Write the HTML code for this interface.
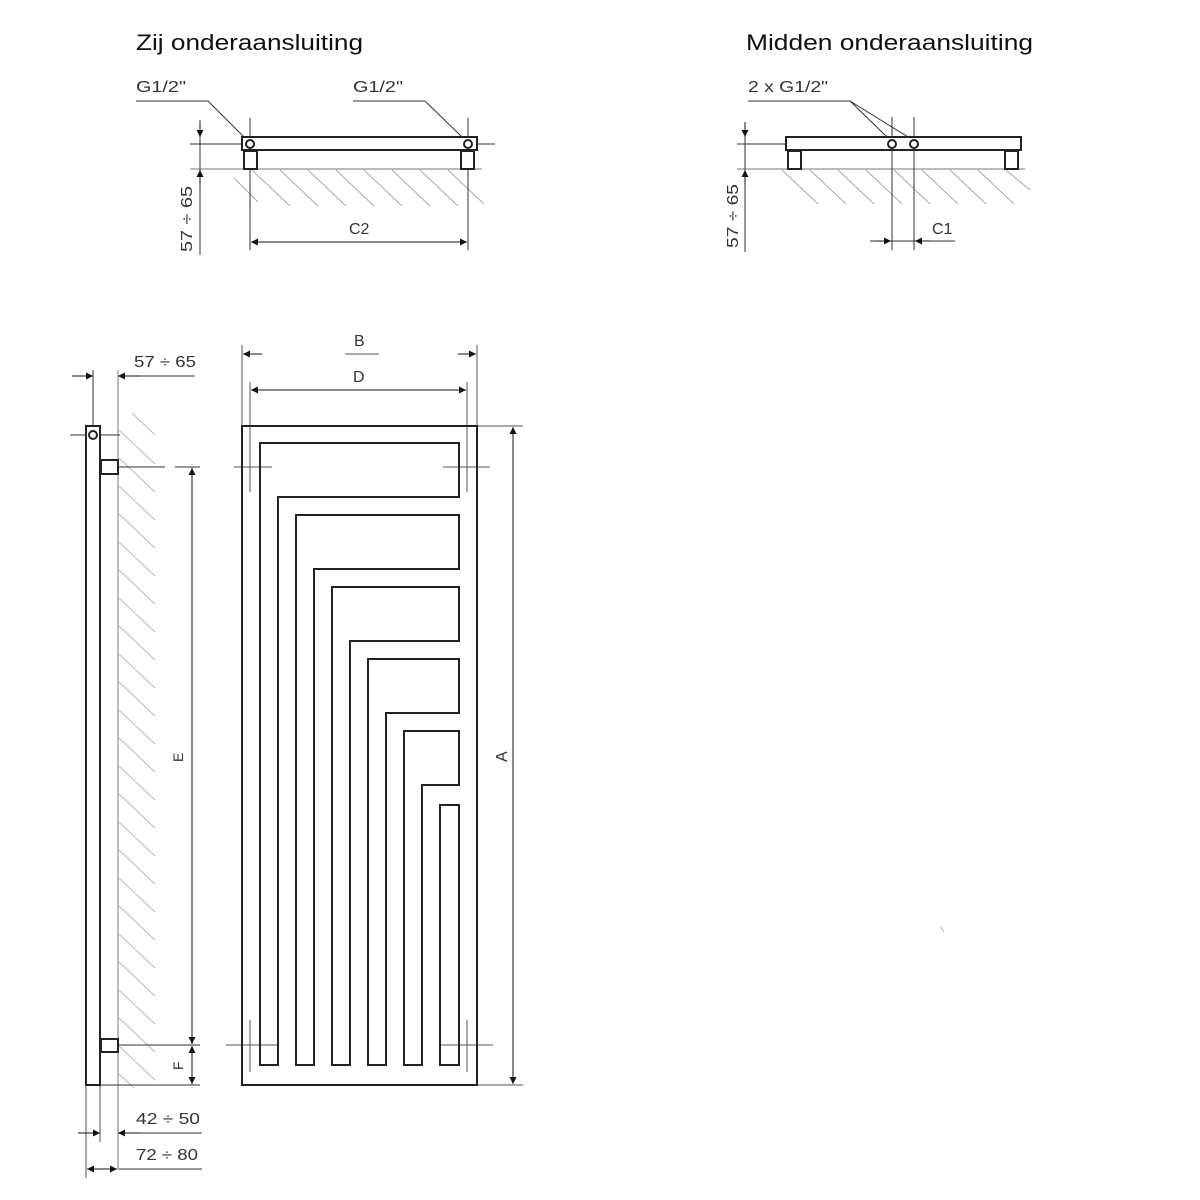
<!DOCTYPE html>
<html><head><meta charset="utf-8"><style>
html,body{margin:0;padding:0;background:#fff;}
svg{display:block;}
text{font-family:"Liberation Sans","DejaVu Sans",sans-serif;fill:#333;}
</style></head><body>
<svg width="1200" height="1200" viewBox="0 0 1200 1200" xmlns="http://www.w3.org/2000/svg">
<defs>
<marker id="a" viewBox="0 0 10 10" refX="10" refY="5" markerWidth="9" markerHeight="7" orient="auto-start-reverse" markerUnits="userSpaceOnUse"><path d="M0,0 L10,5 L0,10 z" fill="#111"/></marker>
</defs>
<text x="136" y="50" font-size="22" textLength="227" lengthAdjust="spacingAndGlyphs" style="fill:#111">Zij onderaansluiting</text>
<text x="746" y="50" font-size="22" textLength="287" lengthAdjust="spacingAndGlyphs" style="fill:#111">Midden onderaansluiting</text>

<!-- TOP LEFT -->
<g stroke="#aaa" stroke-width="1" fill="none">
<path d="M234,178 L258,202"/>
<path d="M252,170 L290,206 M280,170 L318,206 M308,170 L346,206 M336,170 L374,206 M364,170 L402,206 M392,170 L430,206 M420,170 L458,206 M448,170 L484,204"/>
<line x1="190" y1="169" x2="482" y2="169" stroke="#777"/>
<line x1="190" y1="144" x2="280" y2="144" stroke="#333"/>
<line x1="440" y1="144" x2="495" y2="144" stroke="#333"/>
<line x1="250" y1="118" x2="250" y2="250" stroke="#333"/>
<line x1="468" y1="118" x2="468" y2="250" stroke="#333"/>
<line x1="200" y1="120" x2="200" y2="255" stroke="#333"/>
<path d="M136,101 L208,101 L245,138" stroke="#333"/>
<path d="M353,101 L425,101 L463,138" stroke="#333"/>
</g>
<g stroke="#222" stroke-width="2" fill="#fff">
<rect x="242" y="137" width="235" height="13"/>
<rect x="244" y="151" width="13" height="18"/>
<rect x="461" y="151" width="13" height="18"/>
<circle cx="250" cy="144" r="4"/>
<circle cx="468" cy="144" r="4"/>
</g>
<g stroke="#111" stroke-width="1">
<line x1="200" y1="122" x2="200" y2="137" marker-end="url(#a)"/>
<line x1="200" y1="185" x2="200" y2="170" marker-end="url(#a)"/>
<line x1="251" y1="242" x2="467" y2="242" marker-start="url(#a)" marker-end="url(#a)"/>
</g>
<text x="136" y="92" font-size="16" textLength="50" lengthAdjust="spacingAndGlyphs">G1/2"</text>
<text x="353" y="92" font-size="16" textLength="50" lengthAdjust="spacingAndGlyphs">G1/2"</text>
<text x="349" y="234" font-size="16">C2</text>
<text transform="translate(192,252) rotate(-90)" font-size="16" textLength="66" lengthAdjust="spacingAndGlyphs">57 ÷ 65</text>

<!-- TOP RIGHT -->
<g stroke="#aaa" stroke-width="1" fill="none">
<path d="M782,170 L818,204 M810,170 L846,204 M838,170 L874,204 M866,170 L902,204 M894,170 L930,204 M922,170 L958,204 M950,170 L986,204 M978,170 L1014,204 M1006,170 L1030,190"/>
<line x1="737" y1="169" x2="1025" y2="169" stroke="#777"/>
<line x1="737" y1="144" x2="942" y2="144" stroke="#333"/>
<line x1="892" y1="117" x2="892" y2="250" stroke="#333"/>
<line x1="914" y1="117" x2="914" y2="250" stroke="#333"/>
<line x1="745" y1="122" x2="745" y2="252" stroke="#333"/>
<path d="M748,101 L850,101 L887,137 M850,101 L908,137" stroke="#333"/>
<line x1="870" y1="241" x2="955" y2="241" stroke="#333"/>
</g>
<g stroke="#222" stroke-width="2" fill="#fff">
<rect x="786" y="137" width="235" height="13"/>
<rect x="788" y="151" width="13" height="18"/>
<rect x="1005" y="151" width="13" height="18"/>
<circle cx="892" cy="144" r="4"/>
<circle cx="914" cy="144" r="4"/>
</g>
<g stroke="#111" stroke-width="1">
<line x1="745" y1="122" x2="745" y2="137" marker-end="url(#a)"/>
<line x1="745" y1="185" x2="745" y2="170" marker-end="url(#a)"/>
<line x1="876" y1="241" x2="891" y2="241" marker-end="url(#a)"/>
<line x1="930" y1="241" x2="915" y2="241" marker-end="url(#a)"/>
</g>
<text x="748" y="92" font-size="16" textLength="80" lengthAdjust="spacingAndGlyphs">2 x G1/2"</text>
<text x="932" y="234" font-size="16">C1</text>
<text transform="translate(738,248) rotate(-90)" font-size="16" textLength="64" lengthAdjust="spacingAndGlyphs">57 ÷ 65</text>

<!-- SIDE VIEW -->
<g stroke="#bbb" stroke-width="1" fill="none">
<path d="M132,413 L155,435"/>
<path d="M119,430 L155,464"/>
</g>
<g stroke="#bbb" stroke-width="1">
<path d="M119,458 L155,492 M119,486 L155,520 M119,514 L155,548 M119,542 L155,576 M119,570 L155,604 M119,598 L155,632 M119,626 L155,660 M119,654 L155,688 M119,682 L155,716 M119,710 L155,744 M119,738 L155,772 M119,766 L155,800 M119,794 L155,828 M119,822 L155,856 M119,850 L155,884 M119,878 L155,912 M119,906 L155,940 M119,934 L155,968 M119,962 L155,996 M119,990 L155,1024 M119,1018 L155,1052 M119,1046 L155,1080 M119,1074 L134,1088"/>
<line x1="118" y1="370" x2="118" y2="1170" stroke="#777"/>
<line x1="93" y1="370" x2="93" y2="460" stroke="#333"/>
<line x1="70" y1="435" x2="120" y2="435" stroke="#333"/>
<line x1="86" y1="1085" x2="86" y2="1178" stroke="#555"/>
<line x1="100" y1="1085" x2="100" y2="1142" stroke="#555"/>
<line x1="118" y1="467" x2="165" y2="467" stroke="#333"/>
<line x1="175" y1="467" x2="200" y2="467" stroke="#333"/>
<line x1="118" y1="1045" x2="200" y2="1045" stroke="#333"/>
<line x1="100" y1="1085" x2="200" y2="1085" stroke="#333"/>
<line x1="72" y1="376" x2="92" y2="376" stroke="#333"/>
<line x1="119" y1="376" x2="195" y2="376" stroke="#333"/>
<line x1="78" y1="1133" x2="92" y2="1133" stroke="#333"/>
<line x1="119" y1="1133" x2="202" y2="1133" stroke="#333"/>
<line x1="119" y1="1169" x2="202" y2="1169" stroke="#333"/>
</g>
<g stroke="#222" stroke-width="2" fill="#fff">
<rect x="86" y="426" width="14" height="659"/>
<rect x="101" y="460" width="17" height="14"/>
<rect x="101" y="1039" width="17" height="13"/>
<circle cx="93" cy="435" r="4"/>
</g>
<g stroke="#111" stroke-width="1">
<line x1="72" y1="376" x2="93" y2="376" marker-end="url(#a)"/>
<line x1="140" y1="376" x2="118" y2="376" marker-end="url(#a)"/>
<line x1="192" y1="1044" x2="192" y2="468" marker-start="url(#a)" marker-end="url(#a)"/>
<line x1="192" y1="1046" x2="192" y2="1084" marker-start="url(#a)" marker-end="url(#a)"/>
<line x1="78" y1="1133" x2="100" y2="1133" marker-end="url(#a)"/>
<line x1="140" y1="1133" x2="118" y2="1133" marker-end="url(#a)"/>
<line x1="87" y1="1169" x2="117" y2="1169" marker-start="url(#a)" marker-end="url(#a)"/>
</g>
<text x="134" y="367" font-size="16" textLength="62" lengthAdjust="spacingAndGlyphs">57 ÷ 65</text>
<text x="136" y="1124" font-size="16" textLength="64" lengthAdjust="spacingAndGlyphs">42 ÷ 50</text>
<text x="136" y="1160" font-size="16" textLength="62" lengthAdjust="spacingAndGlyphs">72 ÷ 80</text>
<text transform="translate(183,762) rotate(-90)" font-size="14">E</text>
<text transform="translate(183,1070) rotate(-90)" font-size="14">F</text>

<!-- FRONT VIEW -->
<g stroke="#555" stroke-width="1">
<line x1="242" y1="345" x2="242" y2="426"/>
<line x1="477" y1="345" x2="477" y2="426"/>
<line x1="250" y1="382" x2="250" y2="492"/>
<line x1="467" y1="382" x2="467" y2="492"/>
<line x1="250" y1="1020" x2="250" y2="1072"/>
<line x1="467" y1="1020" x2="467" y2="1072"/>
<line x1="234" y1="467" x2="272" y2="467"/>
<line x1="443" y1="467" x2="490" y2="467"/>
<line x1="226" y1="1045" x2="278" y2="1045"/>
<line x1="441" y1="1045" x2="493" y2="1045"/>
<line x1="477" y1="426" x2="523" y2="426"/>
<line x1="477" y1="1085" x2="523" y2="1085"/>
<line x1="345" y1="354" x2="379" y2="354"/>
</g>
<g stroke="#111" stroke-width="1">
<line x1="243" y1="354" x2="262" y2="354" marker-start="url(#a)"/>
<line x1="458" y1="354" x2="476" y2="354" marker-end="url(#a)"/>
<line x1="251" y1="390" x2="466" y2="390" marker-start="url(#a)" marker-end="url(#a)"/>
<line x1="513" y1="427" x2="513" y2="1084" marker-start="url(#a)" marker-end="url(#a)"/>
</g>
<text x="354" y="346" font-size="16">B</text>
<text x="353" y="382" font-size="16">D</text>
<text transform="translate(507,762) rotate(-90)" font-size="16">A</text>
<g stroke="#222" stroke-width="2" fill="none">
<rect x="242" y="426" width="235" height="659"/>
<path d="M260,443 H459 V497 H278 V1065 H260 Z"/>
<path d="M296,515 H459 V569 H314 V1065 H296 Z"/>
<path d="M332,587 H459 V641 H350 V1065 H332 Z"/>
<path d="M368,659 H459 V713 H386 V1065 H368 Z"/>
<path d="M404,731 H459 V785 H422 V1065 H404 Z"/>
<path d="M440,805 H459 V1065 H440 Z"/>
</g>
<line x1="941" y1="927" x2="944" y2="932" stroke="#aaa" stroke-width="1"/>
</svg>
</body></html>
